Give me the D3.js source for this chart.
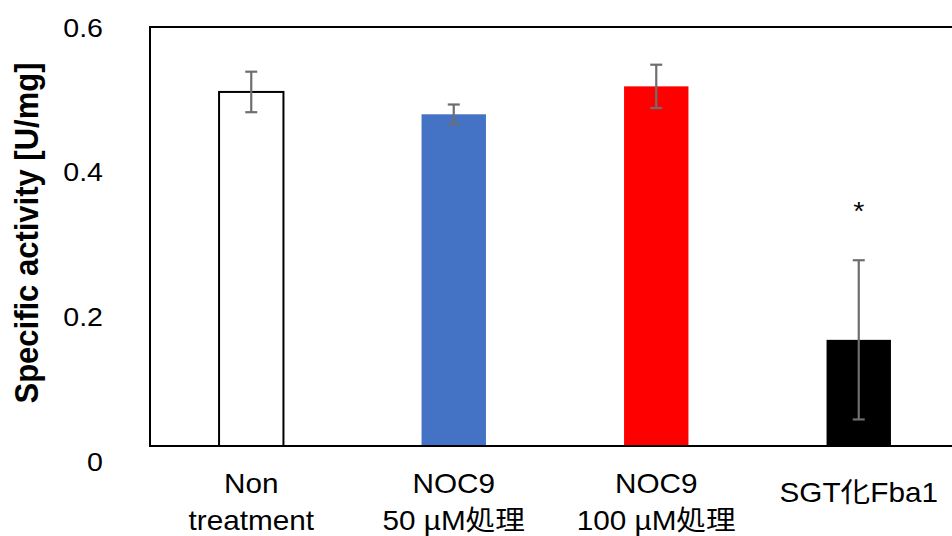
<!DOCTYPE html>
<html>
<head>
<meta charset="utf-8">
<script src="https://cdn.jsdelivr.net/npm/d3@7"></script>
<style>
  body { margin: 0; background: #fff; }
  text { font-family: "Liberation Sans", Arial, "Noto Sans CJK JP", sans-serif; fill: #000; }
</style>
</head>
<body>
<div id="chart"></div>
<script>
// data
var categories = ["Non\ntreatment", "NOC9\n50 µM処理", "NOC9\n100 µM処理", "SGT化Fba1"];
var activity = [0.507, 0.475, 0.515, 0.152];
var errors = [0.029, 0.014, 0.031, 0.114];
var marks = ["", "", "", "*"];
var yTicks = [0, 0.2, 0.4, 0.6];

var barFill = ["#ffffff", "#4472c4", "#ff0000", "#000000"];

var w = 952, h = 536;
var plotLeft = 150, plotRight = 960, plotTop = 27, plotBottom = 446;
var sx = 1.1; // the picture is stretched a little sideways

var svg = d3.select("#chart").append("svg").attr("width", w).attr("height", h);

var x = d3.scaleBand().domain(d3.range(categories.length)).range([plotLeft, plotRight])
    .paddingInner(0.682).paddingOuter(0.341);
var y = d3.scaleLinear().domain([0, 0.6]).range([plotBottom, plotTop]);
// tick labels sit a bit lower toward the bottom in the original
var yLab = d3.scaleLinear().domain([0, 0.6]).range([461, 27]);

// bars
svg.selectAll("rect.bar").data(activity).enter().append("rect")
    .attr("class", "bar")
    .attr("x", function(d, i) { return x(i); })
    .attr("y", function(d) { return y(d); })
    .attr("width", x.bandwidth())
    .attr("height", function(d) { return plotBottom - y(d); })
    .style("fill", function(d, i) { return barFill[i]; })
    .style("stroke", function(d, i) { return i == 0 ? "#000" : "none"; })
    .style("stroke-width", 2);

// error bars
var eb = svg.selectAll("g.err").data(activity).enter().append("g").attr("class", "err")
    .style("stroke", "#6e6e6e").style("stroke-width", 2.2);
eb.append("line")
    .attr("x1", function(d, i) { return x(i) + x.bandwidth() / 2; })
    .attr("x2", function(d, i) { return x(i) + x.bandwidth() / 2; })
    .attr("y1", function(d, i) { return y(d + errors[i]); })
    .attr("y2", function(d, i) { return y(d - errors[i]); });
[1, -1].forEach(function(s) {
    eb.append("line")
        .attr("x1", function(d, i) { return x(i) + x.bandwidth() / 2 - 6; })
        .attr("x2", function(d, i) { return x(i) + x.bandwidth() / 2 + 6; })
        .attr("y1", function(d, i) { return y(d + s * errors[i]); })
        .attr("y2", function(d, i) { return y(d + s * errors[i]); });
});

// significance mark
svg.selectAll("text.mark").data(activity).enter().append("text")
    .attr("class", "mark")
    .text(function(d, i) { return marks[i]; })
    .attr("transform", function(d, i) {
        return "translate(" + (x(i) + x.bandwidth() / 2) + "," + (y(d + errors[i]) - 40) + ") scale(" + sx + ",1)";
    })
    .attr("text-anchor", "middle")
    .attr("font-size", "26px");

// frame
svg.append("path")
    .attr("d", "M" + plotRight + "," + plotTop + "H" + plotLeft + "V" + plotBottom + "H" + plotRight)
    .style("fill", "none").style("stroke", "#000").style("stroke-width", 2);

// y tick labels
svg.selectAll("text.ytick").data(yTicks).enter().append("text")
    .attr("class", "ytick")
    .text(function(d) { return d == 0 ? "0" : d3.format(".1f")(d); })
    .attr("transform", function(d) { return "translate(103," + (yLab(d) + 9.5) + ") scale(" + sx + ",1)"; })
    .attr("text-anchor", "end")
    .attr("font-size", "26px");

// y title
svg.append("text")
    .text("Specific activity [U/mg]")
    .attr("transform", "translate(38,233) scale(" + sx + ",1) rotate(-90)")
    .attr("text-anchor", "middle")
    .attr("font-weight", "bold")
    .attr("font-size", "31px");

// x labels
var xl = svg.selectAll("text.xlab").data(categories).enter().append("text")
    .attr("class", "xlab")
    .attr("text-anchor", "middle")
    .attr("font-size", "27px")
    .attr("transform", function(d, i) {
        var lines = d.split("\n").length;
        var base = lines == 1 ? 502 : 493;
        return "translate(" + (x(i) + x.bandwidth() / 2) + "," + base + ") scale(" + sx + ",1)";
    });
xl.selectAll("tspan").data(function(d) { return d.split("\n"); }).enter().append("tspan")
    .attr("x", 0)
    .attr("dy", function(d, j) { return j == 0 ? 0 : 37; })
    .text(function(d) { return d; });
</script>
</body>
</html>
